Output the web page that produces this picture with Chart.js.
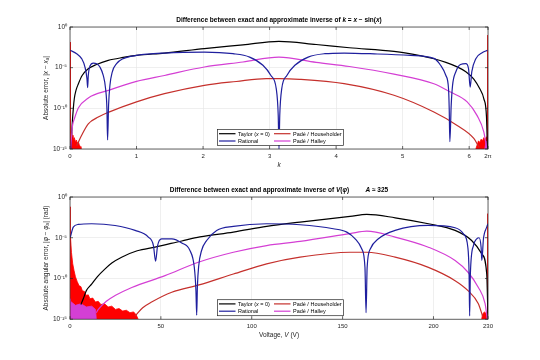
<!DOCTYPE html>
<html>
<head>
<meta charset="utf-8">
<script src="https://cdn.jsdelivr.net/npm/chart.js@4.4.1/dist/chart.umd.min.js"></script>
<style>
  html, body { margin: 0; padding: 0; background: #fff; }
  .panel { position: absolute; left: 0; width: 540px; height: 180px; }
</style>
</head>
<body>
<div class="panel" style="top:0"><canvas id="chartK" width="540" height="180"></canvas></div>
<div class="panel" style="top:180px"><canvas id="chartV" width="540" height="180"></canvas></div>
<script>
// ---- upper plot: inverse of k = x - sin(x) ----
const kTickValues = [0, 1, 2, 3, 4, 5, 6, 2 * Math.PI];
const kTickLabels = ['0', '1', '2', '3', '4', '5', '6', '2π'];

const kTaylorX = [0.015, 0.025, 0.035, 0.05, 0.065, 0.09, 0.125, 0.18, 0.265, 0.4, 0.575, 0.8, 1.0, 1.42, 2.02, 2.6, 3.14, 3.7, 4.2, 4.87, 5.28, 5.47, 5.65, 5.82, 5.95, 6.07, 6.16, 6.22, 6.26, 6.275];
const kTaylorY = [1e-15, 6.3e-14, 2.0e-12, 1e-10, 1.6e-9, 1.6e-8, 1e-7, 1e-6, 6.3e-6, 2.5e-5, 7.9e-5, 1.8e-4, 3.2e-4, 6.3e-4, 2.2e-3, 6.3e-3, 1.7e-2, 7.1e-3, 2.8e-3, 1e-3, 2.8e-4, 1.26e-4, 4.5e-5, 1.26e-5, 3.2e-6, 4.0e-7, 2.5e-8, 1.6e-9, 1e-11, 1e-15];

const kRationalX = [0.005, 0.1, 0.175, 0.225, 0.255, 0.265, 0.275, 0.30, 0.35, 0.40, 0.45, 0.50, 0.535, 0.555, 0.565, 0.58, 0.60, 0.635, 0.70, 0.80, 1.0, 1.42, 2.02, 2.45, 2.70, 2.90, 3.02, 3.10, 3.13, 3.1416, 3.153, 3.183, 3.26, 3.38, 3.58, 3.83, 4.12, 4.62, 5.12, 5.47, 5.57, 5.65, 5.69, 5.70, 5.71, 5.73, 5.75, 5.80, 5.87, 5.95, 5.99, 6.015, 6.04, 6.10, 6.20, 6.275];
const kRationalY = [1.35e-3, 5.2e-4, 1.3e-4, 1.2e-5, 4.5e-7, 3.5e-8, 1.1e-6, 1.6e-5, 3.7e-5, 3.1e-5, 1.2e-5, 1.1e-6, 2.6e-8, 9.1e-11, 1.3e-14, 2.5e-10, 6.3e-8, 2.9e-6, 3.1e-5, 1.3e-4, 3.2e-4, 6.3e-4, 8.3e-4, 5.2e-4, 2.0e-4, 1.95e-5, 1.1e-6, 2.6e-8, 1.35e-11, 1e-15, 1.35e-11, 2.6e-8, 1.1e-6, 1.95e-5, 2.0e-4, 5.2e-4, 6.3e-4, 4.8e-4, 3.2e-4, 1.4e-4, 2.0e-5, 1.1e-6, 2.5e-8, 1e-10, 7.9e-15, 2.5e-10, 6.3e-8, 3.2e-6, 2.5e-5, 3.2e-5, 7.9e-6, 4.0e-8, 3.2e-6, 1.26e-4, 7.1e-4, 1.35e-3];

const kHouseX = [0.1, 0.175, 0.275, 0.425, 0.575, 1.0, 1.42, 2.02, 2.5, 2.95, 3.15, 3.45, 4.12, 4.87, 5.47, 5.82, 6.07, 6.15];
const kHouseY = [2.5e-15, 5.0e-14, 1.26e-12, 8.5e-12, 3.2e-11, 6.3e-10, 6.3e-9, 6.8e-8, 2.0e-7, 4.5e-7, 4.5e-7, 3.7e-7, 1.07e-7, 4.0e-9, 3.5e-11, 7.9e-13, 2.0e-14, 1.6e-15];

const kHalleyX = [0.012, 0.025, 0.04, 0.065, 0.125, 0.275, 0.575, 1.0, 1.42, 2.02, 2.6, 3.14, 3.7, 4.2, 4.87, 5.47, 5.72, 5.97, 6.12, 6.22, 6.265];
const kHalleyY = [1e-15, 5.0e-14, 1e-12, 5.0e-12, 1.1e-10, 1.9e-9, 1.6e-8, 2.1e-7, 1.1e-6, 1.2e-5, 5.0e-5, 2.0e-4, 4.5e-5, 1.4e-5, 1.6e-6, 1.07e-7, 1e-8, 6.3e-10, 1.26e-11, 1.26e-13, 1e-15];

// round-off noise near the ends
const kNoiseLeftX = [0, 0, 0.004, 0.015, 0.025, 0.035, 0.045, 0.055, 0.065, 0.08, 0.095, 0.11, 0.125, 0.14, 0.155, 0.165];
const kNoiseLeftY = [1e-15, 1.4e-2, 2.5e-13, 1e-13, 1.26e-13, 3.2e-14, 5e-14, 1.26e-14, 2.5e-14, 7.9e-15, 1.26e-14, 5e-15, 7.9e-15, 3.2e-15, 2e-15, 1e-15];
const kNoiseRightX = [6.10, 6.12, 6.14, 6.16, 6.18, 6.20, 6.22, 6.24, 6.26, 6.275, 2 * Math.PI, 2 * Math.PI];
const kNoiseRightY = [1e-15, 3.2e-15, 1e-14, 6.3e-15, 1.6e-14, 1e-14, 2.5e-14, 1.26e-14, 3.2e-14, 2e-14, 1e-1, 1e-15];
const kNoisePinkX = [6.235, 6.25, 6.265, 6.28];
const kNoisePinkY = [1e-15, 5e-15, 1e-14, 1e-15];

// ---- lower plot: inverse of V(phi) ----
const vTickValues = [0, 50, 100, 150, 200, 230];
const vTickLabels = ['0', '50', '100', '150', '200', '230'];

const vTaylorX = [6, 7.3, 9, 11.9, 15, 19.3, 23, 28.4, 37, 46.8, 61.5, 71.5, 89.9, 108.2, 126.6, 154.1, 163.3, 178.9, 197.2, 211.9, 221, 226.6, 229.3, 230];
const vTaylorY = [6.3e-14, 3.2e-13, 3.2e-12, 2.0e-11, 1.6e-10, 1.5e-9, 7.9e-9, 4.1e-8, 2.5e-7, 7.1e-7, 4.0e-6, 1.26e-5, 4.9e-5, 2.5e-4, 8.3e-4, 4.2e-3, 7.4e-3, 2.8e-3, 5.2e-4, 7.9e-5, 4.6e-6, 1.05e-7, 3.5e-10, 1e-15];

const vRationalX = [0.2, 1.8, 4.6, 11.9, 24.8, 35.8, 43.1, 45.9, 47.1, 48.2, 50.4, 56, 61.5, 66, 68.4, 69.3, 69.7, 70.1, 70.8, 72.4, 75.2, 80.7, 89.9, 108.2, 126.6, 144.9, 152.3, 156.9, 160.5, 162.3, 162.9, 163.5, 165.3, 169.7, 178.9, 197.2, 211.9, 216.5, 218.9, 219.6, 219.9, 220.3, 222, 223.8, 225.1, 226.2, 226.6, 227.5, 229.3, 230];
const vRationalY = [1.2e-5, 2.0e-4, 4.3e-4, 5.2e-4, 3.2e-4, 7.9e-5, 1.2e-5, 1.1e-6, 1.3e-8, 1.1e-6, 7.4e-6, 7.4e-6, 2.3e-6, 2.7e-7, 2.3e-9, 3.2e-12, 3.2e-15, 1e-11, 3.2e-9, 2.7e-7, 4.6e-6, 7.9e-5, 2.5e-4, 5.2e-4, 3.9e-4, 1.26e-4, 4.9e-5, 7.4e-6, 4.4e-7, 2.3e-9, 6.3e-15, 2.3e-9, 4.4e-7, 7.4e-6, 7.9e-5, 3.2e-4, 1.66e-4, 3.0e-5, 6.9e-7, 3.5e-10, 2.5e-15, 3.5e-10, 1.1e-6, 7.4e-6, 1e-5, 6.9e-7, 1.6e-8, 7.4e-6, 2.0e-4, 5.2e-4];

const vHouseX = [35.8, 40, 44.9, 56, 71, 89.9, 108.2, 126.6, 154.1, 163.3, 178.9, 197.2, 211.9, 219, 224.7, 227];
const vHouseY = [2.5e-15, 2.5e-14, 1.26e-13, 2.0e-12, 1.6e-11, 3.5e-10, 6.3e-9, 4.1e-8, 1.66e-7, 1.66e-7, 4.1e-8, 2.3e-9, 5.4e-11, 3.2e-12, 7.9e-14, 2.5e-15];

const vHalleyX = [14.5, 15.6, 20, 24.8, 34, 52.3, 70.6, 89.9, 108.2, 126.6, 154.1, 163.3, 178.9, 197.2, 211.9, 219, 224.7, 228.4, 229.6];
const vHalleyY = [6.3e-15, 1.6e-14, 1.6e-13, 7.9e-13, 7.9e-12, 2.2e-10, 9.8e-9, 1.66e-7, 1.1e-6, 3.5e-6, 3.2e-5, 6.5e-5, 1.2e-5, 6.9e-7, 1.6e-8, 5.8e-10, 7.9e-12, 7.9e-14, 1e-15];

const vNoiseRedX = [0, 0, 0.3, 0.8, 1.5, 2.2, 3, 4, 5, 6, 6.8, 8, 9, 10, 11, 12.5, 14, 15.5, 17, 19, 21, 23, 25, 27, 29, 31, 33, 35, 36.5, 37.5];
const vNoiseRedY = [1e-15, 6.3e-2, 3.2e-5, 1.6e-7, 6.3e-9, 1e-9, 1.6e-10, 4.0e-11, 1.26e-11, 1e-11, 3.2e-12, 2.5e-12, 7.9e-13, 1e-12, 3.2e-13, 4.0e-13, 1.26e-13, 1.6e-13, 6.3e-14, 7.9e-14, 3.2e-14, 4.0e-14, 1.6e-14, 2.0e-14, 1e-14, 1.26e-14, 6.3e-15, 7.9e-15, 3.2e-15, 1e-15];
const vNoisePinkX = [0, 0, 0.5, 3, 6, 9, 12, 14, 14.5];
const vNoisePinkY = [1e-15, 3.2e-13, 1.6e-13, 5e-14, 7.9e-14, 3.2e-14, 4e-14, 1.6e-14, 1e-15];
const vNoiseRightX = [226.5, 227, 228, 229, 229.8, 230, 230];
const vNoiseRightY = [1e-15, 4e-15, 7.9e-15, 5e-15, 1e-14, 8.9e-3, 1e-15];

const yTickValues = [1e-15, 1e-10, 1e-5, 1];
const yTickLabels = ['10⁻¹⁵', '10⁻¹⁰', '10⁻⁵', '10⁰'];

const COL_TAYLOR = '#000000';
const COL_RATIONAL = '#1f1f9e';
const COL_HOUSE = '#c5302c';
const COL_HALLEY = '#d43fd4';
const COL_NOISE = '#ff0000';
const COL_AXIS = '#262626';
const FONT = '"Liberation Sans", Arial, sans-serif';

Chart.defaults.font.family = FONT;
Chart.defaults.color = COL_AXIS;

function toPoints(xs, ys) {
    return xs.map((x, i) => ({ x: x, y: ys[i] }));
}

function curve(label, rich, xs, ys, color, order) {
    return {
        label: label, rich: rich, data: toPoints(xs, ys), borderColor: color, backgroundColor: color,
        borderWidth: 1.2, pointRadius: 0, cubicInterpolationMode: 'monotone',
        fill: false, order: order, inLegend: true
    };
}

function noise(xs, ys, color, order) {
    return {
        label: '', data: toPoints(xs, ys), borderColor: color, backgroundColor: color,
        borderWidth: 0.8, pointRadius: 0, tension: 0, fill: 'start', order: order
    };
}

// text made of pieces: [text, style] ; style: '', 'i', 'b', 'bi', 'sub', 'isub'
function fontFor(style, size) {
    const sub = style.indexOf('sub') >= 0;
    const it = style.indexOf('i') >= 0 ? 'italic ' : '';
    const bd = style.indexOf('b') >= 0 && !sub ? 'bold ' : '';
    return it + bd + (sub ? size * 0.7 : size) + 'px ' + FONT;
}

function drawRich(ctx, parts, cx, cy, size, rotation, align) {
    ctx.save();
    ctx.translate(cx, cy);
    if (rotation) ctx.rotate(rotation);
    let total = 0;
    parts.forEach(p => { ctx.font = fontFor(p[1], size); total += ctx.measureText(p[0]).width; });
    let x = align === 'left' ? 0 : -total / 2;
    ctx.textBaseline = 'middle';
    ctx.textAlign = 'left';
    parts.forEach(p => {
        ctx.font = fontFor(p[1], size);
        const dy = p[1].indexOf('sub') >= 0 ? size * 0.3 : 0;
        ctx.fillText(p[0], x, dy);
        x += ctx.measureText(p[0]).width;
    });
    ctx.restore();
}

// titles and axis labels with italic / subscript pieces
const richText = {
    id: 'richText',
    afterDraw(chart, args, opts) {
        const ctx = chart.ctx, a = chart.chartArea;
        const cx = (a.left + a.right) / 2, cy = (a.top + a.bottom) / 2;
        ctx.save();
        ctx.fillStyle = '#000';
        drawRich(ctx, opts.title, cx, a.top - 6.5, 6.5, 0);
        ctx.fillStyle = COL_AXIS;
        drawRich(ctx, opts.xTitle, cx, a.bottom + 16, 6.5, 0);
        drawRich(ctx, opts.yTitle, 46, cy, 6.5, -Math.PI / 2);
        ctx.restore();
    }
};

// legend box drawn inside the axes, two columns like the original
const boxLegend = {
    id: 'boxLegend',
    afterDraw(chart) {
        const ctx = chart.ctx, a = chart.chartArea;
        const w = 126, h = 16;
        const left = a.left + 147, top = a.bottom - 4 - h;
        ctx.save();
        ctx.fillStyle = '#fff';
        ctx.fillRect(left, top, w, h);
        ctx.strokeStyle = COL_AXIS;
        ctx.lineWidth = 0.7;
        ctx.strokeRect(left + 0.5, top + 0.5, w, h);
        const items = chart.data.datasets.filter(d => d.inLegend);
        items.forEach((d, i) => {
            const col = Math.floor(i / 2), row = i % 2;
            const x0 = left + (col === 0 ? 2 : 57);
            const y0 = top + 4.7 + row * 7.3;
            ctx.strokeStyle = d.borderColor;
            ctx.lineWidth = 1.2;
            ctx.beginPath();
            ctx.moveTo(x0, y0);
            ctx.lineTo(x0 + 16.5, y0);
            ctx.stroke();
            ctx.fillStyle = '#000';
            drawRich(ctx, d.rich, x0 + 19, y0 + 0.3, 5.5, 0, 'left');
        });
        ctx.restore();
    }
};

// box around the axes with inward tick marks
const axesBox = {
    id: 'axesBox',
    afterDraw(chart) {
        const ctx = chart.ctx, a = chart.chartArea, sx = chart.scales.x, sy = chart.scales.y;
        ctx.save();
        ctx.strokeStyle = COL_AXIS;
        ctx.lineWidth = 0.7;
        ctx.strokeRect(a.left, a.top, a.right - a.left, a.bottom - a.top);
        ctx.beginPath();
        sx.ticks.forEach(t => {
            const px = sx.getPixelForValue(t.value);
            ctx.moveTo(px, a.bottom); ctx.lineTo(px, a.bottom - 3);
            ctx.moveTo(px, a.top); ctx.lineTo(px, a.top + 3);
        });
        sy.ticks.forEach(t => {
            const py = sy.getPixelForValue(t.value);
            ctx.moveTo(a.left, py); ctx.lineTo(a.left + 3, py);
            ctx.moveTo(a.right, py); ctx.lineTo(a.right - 3, py);
        });
        ctx.stroke();
        ctx.restore();
    }
};

function makeChart(id, cfg) {
    return new Chart(document.getElementById(id), {
        type: 'line',
        data: { datasets: cfg.datasets },
        options: {
            responsive: false,
            animation: false,
            layout: { padding: { left: 0, right: 52, top: cfg.padTop, bottom: cfg.padBottom } },
            plugins: {
                legend: { display: false },
                tooltip: { enabled: false },
                title: { display: false },
                richText: { title: cfg.title, xTitle: cfg.xTitle, yTitle: cfg.yTitle }
            },
            scales: {
                x: {
                    type: 'linear', min: 0, max: cfg.xMax,
                    afterBuildTicks: s => { s.ticks = cfg.xTicks.map(v => ({ value: v })); },
                    afterFit: s => { s.height = 20; },
                    ticks: {
                        autoSkip: false, maxRotation: 0, padding: 4,
                        font: { size: 6 }, color: COL_AXIS,
                        callback: (v, i) => cfg.xLabels[i]
                    },
                    grid: { color: '#e4e4e4', lineWidth: 0.6, drawTicks: false },
                    border: { display: false }
                },
                y: {
                    type: 'logarithmic', min: 1e-15, max: 1,
                    afterBuildTicks: s => { s.ticks = yTickValues.map(v => ({ value: v })); },
                    afterFit: s => { s.width = 70; },
                    ticks: {
                        autoSkip: false, padding: 3,
                        font: { size: 6.5 }, color: COL_AXIS,
                        callback: (v, i) => yTickLabels[i]
                    },
                    grid: { color: '#e4e4e4', lineWidth: 0.6, drawTicks: false },
                    border: { display: false }
                }
            }
        },
        plugins: [boxLegend, axesBox, richText]
    });
}

const taylorRich = [['Taylor (', ''], ['x', 'i'], [' = 0)', '']];

makeChart('chartK', {
    title: [['Difference between exact and approximate inverse of ', 'b'], ['k', 'bi'], [' = ', 'b'], ['x', 'bi'], [' − sin(', 'b'], ['x', 'bi'], [')', 'b']],
    xTitle: [['k', 'i']],
    yTitle: [['Absolute error, |', ''], ['x', 'i'], [' − ', ''], ['x', 'i'], ['a', 'isub'], ['|', '']],
    padTop: 27, padBottom: 11,
    xMax: 2 * Math.PI, xTicks: kTickValues, xLabels: kTickLabels,
    datasets: [
        curve('Taylor (x = 0)', taylorRich, kTaylorX, kTaylorY, COL_TAYLOR, 4),
        curve('Rational', [['Rational', '']], kRationalX, kRationalY, COL_RATIONAL, 1),
        curve('Padé / Householder', [['Padé / Householder', '']], kHouseX, kHouseY, COL_HOUSE, 3),
        curve('Padé / Halley', [['Padé / Halley', '']], kHalleyX, kHalleyY, COL_HALLEY, 2),
        noise(kNoiseLeftX, kNoiseLeftY, COL_NOISE, 6),
        noise(kNoiseRightX, kNoiseRightY, COL_NOISE, 6),
        noise(kNoisePinkX, kNoisePinkY, COL_HALLEY, 5)
    ]
});

makeChart('chartV', {
    title: [['Difference between exact and approximate inverse of ', 'b'], ['V', 'bi'], ['(', 'b'], ['φ', 'bi'], [')', 'b'], ['         ', 'b'], ['A', 'bi'], [' ≈ 325', 'b']],
    xTitle: [['Voltage, ', ''], ['V', 'i'], [' (V)', '']],
    yTitle: [['Absolute angular error, |', ''], ['φ', 'i'], [' − ', ''], ['φ', 'i'], ['a', 'isub'], ['| (rad)', '']],
    padTop: 17, padBottom: 20.8,
    xMax: 230, xTicks: vTickValues, xLabels: vTickLabels,
    datasets: [
        curve('Taylor (x = 0)', taylorRich, vTaylorX, vTaylorY, COL_TAYLOR, 4),
        curve('Rational', [['Rational', '']], vRationalX, vRationalY, COL_RATIONAL, 1),
        curve('Padé / Householder', [['Padé / Householder', '']], vHouseX, vHouseY, COL_HOUSE, 3),
        curve('Padé / Halley', [['Padé / Halley', '']], vHalleyX, vHalleyY, COL_HALLEY, 2),
        noise(vNoiseRedX, vNoiseRedY, COL_NOISE, 6),
        noise(vNoisePinkX, vNoisePinkY, COL_HALLEY, 5),
        noise(vNoiseRightX, vNoiseRightY, COL_NOISE, 6)
    ]
});
</script>
</body>
</html>
